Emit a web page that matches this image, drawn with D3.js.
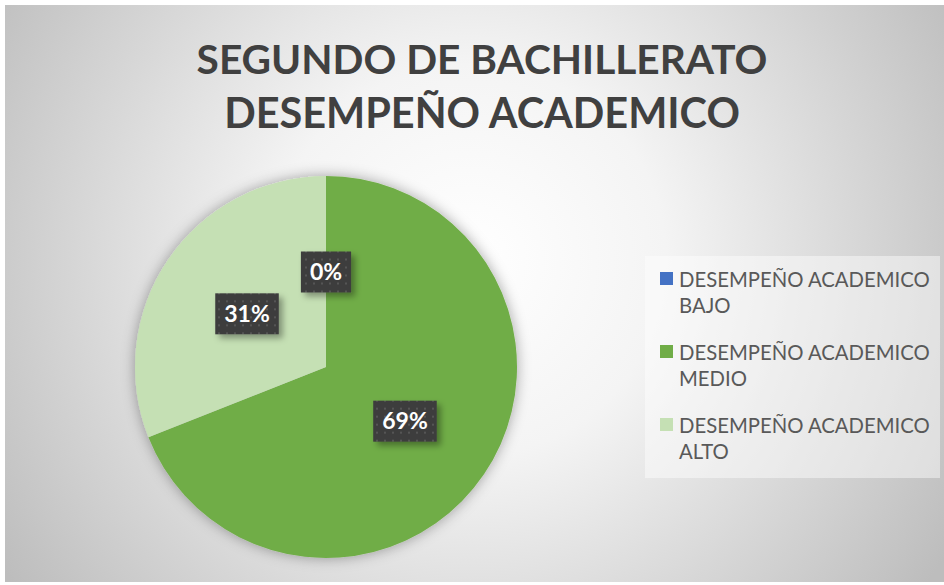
<!DOCTYPE html>
<html>
<head>
<meta charset="utf-8">
<script src="https://cdn.jsdelivr.net/npm/d3@7"></script>
<style>
  body { margin: 0; background: #fff; }
  svg { display: block; }
</style>
</head>
<body>
<svg id="chart" width="944" height="585"></svg>
<script>
const categories = ["DESEMPEÑO ACADEMICO BAJO", "DESEMPEÑO ACADEMICO MEDIO", "DESEMPEÑO ACADEMICO ALTO"];
const values = [0, 69, 31];
const colors = ["#4472C4", "#70AD47", "#C5E0B4"];
const titleLines = ["SEGUNDO DE BACHILLERATO", "DESEMPEÑO ACADEMICO"];

const svg = d3.select("#chart");
const width = 944, height = 585;
const font = "Lato, 'Open Sans', sans-serif";

const defs = svg.append("defs");

// background radial gradient
const bg = defs.append("radialGradient").attr("id", "bg")
  .attr("gradientUnits", "userSpaceOnUse")
  .attr("cx", 470).attr("cy", 260).attr("r", 560);
bg.append("stop").attr("offset", "0%").attr("stop-color", "#ffffff");
bg.append("stop").attr("offset", "35%").attr("stop-color", "#f4f4f4");
bg.append("stop").attr("offset", "100%").attr("stop-color", "#bdbdbd");

const pieShadow = defs.append("filter").attr("id", "pieShadow")
  .attr("x", "-20%").attr("y", "-20%").attr("width", "140%").attr("height", "140%");
pieShadow.append("feDropShadow").attr("dx", 0).attr("dy", 0)
  .attr("stdDeviation", 7).attr("flood-color", "#000").attr("flood-opacity", 0.35);

const boxShadow = defs.append("filter").attr("id", "boxShadow")
  .attr("x", "-30%").attr("y", "-30%").attr("width", "160%").attr("height", "160%");
boxShadow.append("feDropShadow").attr("dx", 4).attr("dy", 4)
  .attr("stdDeviation", 3).attr("flood-color", "#000").attr("flood-opacity", 0.35);

const dots = defs.append("pattern").attr("id", "dots")
  .attr("patternUnits", "userSpaceOnUse").attr("width", 8).attr("height", 8);
dots.append("rect").attr("width", 8).attr("height", 8).attr("fill", "#3d3d3d");
dots.append("rect").attr("x", 3).attr("y", 3).attr("width", 2).attr("height", 2).attr("fill", "#555");

// chart area
svg.append("rect")
  .attr("x", 5).attr("y", 5).attr("width", width - 5).attr("height", height - 8)
  .attr("fill", "url(#bg)");

// title
const title = svg.append("g").attr("font-family", font).attr("font-weight", "bold")
  .attr("fill", "#404040").attr("text-anchor", "middle");
titleLines.forEach((t, i) => {
  const txt = title.append("text").attr("x", 482).attr("y", 74 + i * 54)
    .attr("font-size", 44).text(t);
  const target = i === 0 ? 571 : 516;
  const w = txt.node().getComputedTextLength();
  txt.attr("font-size", 44 * target / w);
});

// pie
const cx = 326, cy = 367, radius = 191;
const pie = d3.pie().sort(null).value(d => d)(values);
const arc = d3.arc().innerRadius(0).outerRadius(radius);
const labelArc = d3.arc().innerRadius(0).outerRadius(radius);

const g = svg.append("g").attr("transform", `translate(${cx},${cy})`);
g.append("g").attr("filter", "url(#pieShadow)")
  .selectAll("path")
  .data(pie)
  .join("path")
  .attr("d", arc)
  .attr("fill", (d, i) => colors[i]);

const total = d3.sum(values);
const labels = g.selectAll(".lbl")
  .data(pie)
  .join("g")
  .attr("class", "lbl")
  .attr("transform", d => `translate(${labelArc.centroid(d)})`);

labels.each(function (d) {
  const lg = d3.select(this);
  const text = Math.round(d.data / total * 100) + "%";
  const t = lg.append("text")
    .attr("text-anchor", "middle")
    .attr("dy", "0.36em")
    .attr("font-family", font)
    .attr("font-weight", "bold")
    .attr("font-size", 23)
    .attr("fill", "#fff")
    .text(text);
  const w = t.node().getComputedTextLength();
  lg.insert("rect", "text")
    .attr("x", -w / 2 - 9).attr("y", -20)
    .attr("width", w + 18).attr("height", 41)
    .attr("fill", "url(#dots)")
    .attr("filter", "url(#boxShadow)");
});

// legend
const legend = svg.append("g").attr("transform", "translate(645,256)");
legend.append("rect").attr("width", 295).attr("height", 222)
  .attr("fill", "#fff").attr("opacity", 0.45);

const items = legend.selectAll(".item")
  .data(categories)
  .join("g")
  .attr("class", "item")
  .attr("transform", (d, i) => `translate(0,${i * 73})`);

items.append("rect")
  .attr("x", 15).attr("y", 16).attr("width", 13).attr("height", 13)
  .attr("fill", (d, i) => colors[i]);

items.each(function (d) {
  const words = d.split(" ");
  const line1 = words.slice(0, 2).join(" ");
  const line2 = words.slice(2).join(" ");
  const t = d3.select(this).append("text")
    .attr("font-family", font).attr("font-size", 21).attr("fill", "#595959");
  t.append("tspan").attr("x", 34).attr("y", 31).text(line1);
  t.append("tspan").attr("x", 34).attr("y", 57).text(line2);
  const w = t.select("tspan").node().getComputedTextLength();
  t.attr("font-size", 21 * 251 / w);
});
</script>
</body>
</html>
